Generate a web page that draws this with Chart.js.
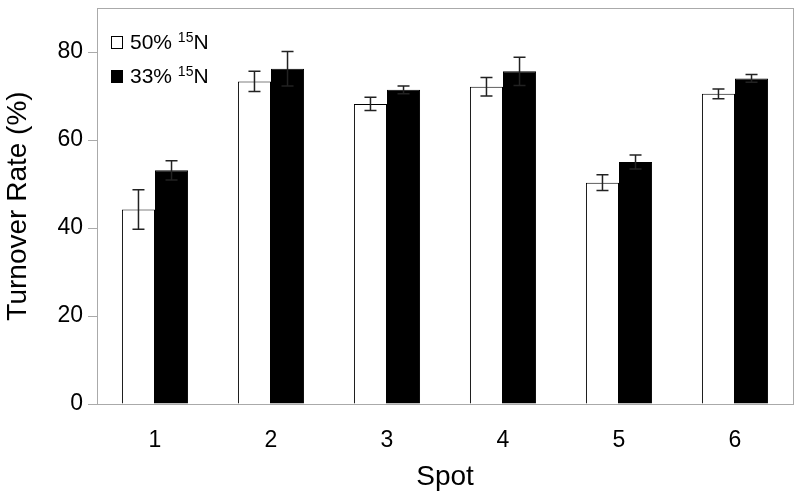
<!DOCTYPE html>
<html>
<head>
<meta charset="utf-8">
<script src="https://cdn.jsdelivr.net/npm/chart.js@4/dist/chart.umd.min.js"></script>
<style>
  html, body { margin: 0; padding: 0; background: #fff; }
  #wrap { width: 800px; height: 498px; }
</style>
</head>
<body>
<div id="wrap"><canvas id="chart"></canvas></div>
<script>
const spots = ["1", "2", "3", "4", "5", "6"];
const rate50 = [44.2, 73.3, 68.2, 72.1, 50.3, 70.5];
const rate33 = [53.1, 76.2, 71.4, 75.6, 55.0, 74.0];
const err50 = [4.5, 2.3, 1.5, 2.1, 1.8, 1.1];
const err33 = [2.2, 3.9, 0.9, 3.2, 1.6, 0.9];
const yTicks = [0, 20, 40, 60, 80];
const seriesNames = ["50%", "33%"];

const FONT = "'Liberation Sans', Arial, sans-serif";

// error bars drawn from the bar elements and the y scale
const errorBars = {
    id: "errorBars",
    afterDatasetsDraw(chart) {
        const ctx = chart.ctx;
        const y = chart.scales.y;
        chart.data.datasets.forEach((ds, i) => {
            const meta = chart.getDatasetMeta(i);
            meta.data.forEach((bar, j) => {
                const v = ds.data[j], e = ds.errors[j];
                const top = y.getPixelForValue(v + e);
                const bot = y.getPixelForValue(v - e);
                ctx.save();
                ctx.strokeStyle = "#222";
                ctx.lineWidth = 1.5;
                ctx.beginPath();
                ctx.moveTo(bar.x, top);
                ctx.lineTo(bar.x, bot);
                ctx.moveTo(bar.x - 6, top);
                ctx.lineTo(bar.x + 6, top);
                ctx.moveTo(bar.x - 6, bot);
                ctx.lineTo(bar.x + 6, bot);
                ctx.stroke();
                ctx.restore();
            });
        });
    },
};

// grey frame round the plot + legend with superscript
const frameAndLegend = {
    id: "frameAndLegend",
    afterDraw(chart) {
        const ctx = chart.ctx;
        const a = chart.chartArea;
        ctx.save();
        ctx.strokeStyle = "#aaa";
        ctx.lineWidth = 1;
        ctx.strokeRect(Math.round(a.left) + 0.5, Math.round(a.top) + 0.5,
            Math.round(a.right - a.left), Math.round(a.bottom - a.top));

        chart.data.datasets.forEach((ds, i) => {
            const x = a.left + 14, base = a.top + 41 + i * 34;
            ctx.fillStyle = ds.backgroundColor;
            ctx.fillRect(x, base - 13, 12, 13);
            ctx.strokeStyle = "#000";
            ctx.strokeRect(x + 0.5, base - 12.5, 11, 12);
            ctx.fillStyle = "#000";
            ctx.textBaseline = "alphabetic";
            ctx.font = "21px " + FONT;
            let tx = x + 19;
            const name = seriesNames[i] + " ";
            ctx.fillText(name, tx, base);
            tx += ctx.measureText(name).width;
            ctx.font = "14px " + FONT;
            ctx.fillText("15", tx, base - 7);
            tx += ctx.measureText("15").width;
            ctx.font = "21px " + FONT;
            ctx.fillText("N", tx, base);
        });
        ctx.restore();
    },
};

new Chart(document.getElementById("chart"), {
    type: "bar",
    data: {
        labels: spots,
        datasets: [
            {
                label: "50% 15N",
                data: rate50,
                errors: err50,
                backgroundColor: "#fff",
                borderColor: "#000",
                borderWidth: 1,
            },
            {
                label: "33% 15N",
                data: rate33,
                errors: err33,
                backgroundColor: "#000",
                borderColor: "#000",
                borderWidth: 1,
            },
        ],
    },
    options: {
        responsive: true,
        maintainAspectRatio: false,
        animation: false,
        layout: { padding: { top: 8, right: 7, left: 0, bottom: 0 } },
        plugins: {
            legend: { display: false },
            tooltip: { enabled: false },
        },
        datasets: {
            bar: { categoryPercentage: 0.57, barPercentage: 1.0 },
        },
        scales: {
            x: {
                grid: { display: false, drawTicks: false },
                border: { display: true, color: "#aaa" },
                ticks: { color: "#000", font: { family: FONT, size: 23 }, padding: 23 },
                title: {
                    display: true,
                    text: "Spot",
                    color: "#000",
                    font: { family: FONT, size: 28 },
                    padding: { top: 0, bottom: 4 },
                },
                afterFit(axis) { axis.height = 94; },
            },
            y: {
                min: 0,
                max: 90,
                afterBuildTicks(axis) { axis.ticks = yTicks.map(v => ({ value: v })); },
                grid: { drawOnChartArea: false, tickLength: 9, color: "#aaa" },
                border: { display: true, color: "#aaa" },
                ticks: { color: "#000", font: { family: FONT, size: 23 }, padding: 5 },
                title: {
                    display: true,
                    text: "Turnover Rate (%)",
                    color: "#000",
                    font: { family: FONT, size: 28 },
                    padding: { top: 1, bottom: 0 },
                },
                afterFit(axis) {
                    axis.width = 97;
                    axis.paddingTop = 0;
                    axis.paddingBottom = 0;
                },
            },
        },
    },
    plugins: [errorBars, frameAndLegend],
});
</script>
</body>
</html>
